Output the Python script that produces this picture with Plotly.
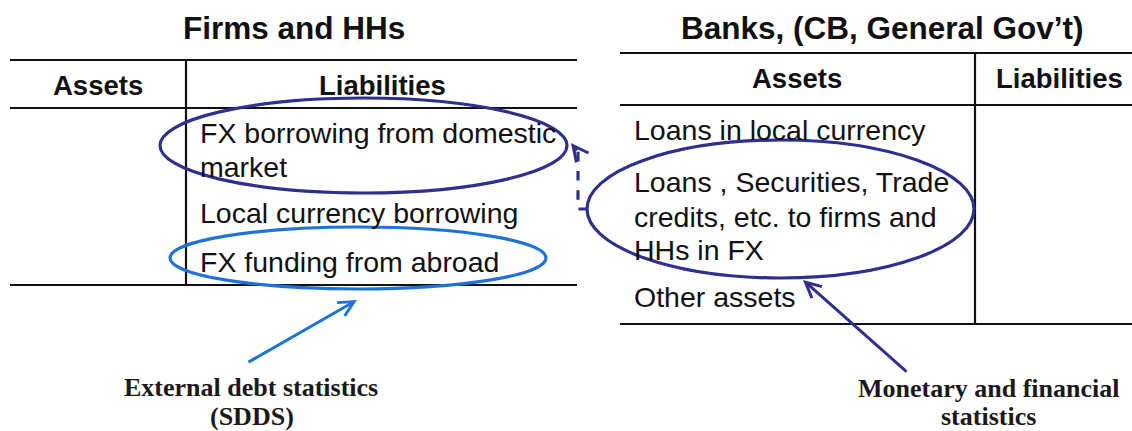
import plotly.graph_objects as go

W, H = 1132, 431

# diagram content
left_title = "Firms and HHs"
right_title = "Banks, (CB, General Gov’t)"
headers = ["Assets", "Liabilities"]
left_rows = ["FX borrowing from domestic", "market", "Local currency borrowing", "FX funding from abroad"]
right_rows = ["Loans in local currency", "Loans , Securities, Trade", "credits, etc. to firms and",
              "HHs in FX", "Other assets"]
caption_left = ["External debt statistics", "(SDDS)"]
caption_right = ["Monetary and financial", "statistics"]

NAVY = "#2e2f8f"
BLUE = "#1f72d8"
INK = "#111111"
SANS = "Liberation Sans, Arial, sans-serif"
SERIF = "Liberation Serif, Times New Roman, serif"

fig = go.Figure()
shapes = []
ann = []


def hline(x0, x1, y, w=2.2):
    shapes.append(dict(type="line", x0=x0, x1=x1, y0=y, y1=y, line=dict(color=INK, width=w)))


def vline(x, y0, y1, w=2.2):
    shapes.append(dict(type="line", x0=x, x1=x, y0=y0, y1=y1, line=dict(color=INK, width=w)))


def text(s, x, y, size, anchor="left", bold=False, family=SANS, color=INK):
    ann.append(dict(x=x, y=y, text=s, showarrow=False, xanchor=anchor, yanchor="middle", borderpad=0,
                    font=dict(family=family, size=size, color=color, weight="bold" if bold else "normal")))


# left table: Firms and HHs
text(left_title, 294, 28, 31.5, "center", True)
hline(10, 577, 60)
hline(10, 577, 108)
hline(10, 577, 285)
vline(186, 60, 285)
text(headers[0], 98, 85, 27.5, "center", True)
text(headers[1], 382, 85, 27.5, "center", True)
for s, y in zip(left_rows, [133, 167, 213, 262]):
    text(s, 199, y, 28.5)

# right table: Banks
text(right_title, 882, 28, 31.5, "center", True)
hline(620, 1132, 53)
hline(620, 1132, 105)
hline(620, 1132, 324)
vline(975, 53, 324)
text(headers[0], 797, 78, 27.5, "center", True)
text(headers[1], 1059, 78, 27.5, "center", True)
for s, y in zip(right_rows, [130, 182, 217, 250, 297]):
    text(s, 633, y, 28.5)

# ellipses
shapes.append(dict(type="circle", x0=160, x1=567, y0=98, y1=193, line=dict(color=NAVY, width=3.2)))
shapes.append(dict(type="circle", x0=170, x1=546, y0=227, y1=289, line=dict(color=BLUE, width=3.2)))
shapes.append(dict(type="circle", x0=587, x1=974, y0=140, y1=278, line=dict(color=NAVY, width=3.2)))

# dashed connector between the two navy ellipses
shapes.append(dict(type="path", path="M 588 209 L 578 209 L 578 150",
                   line=dict(color=NAVY, width=3.2, dash="dash")))
ann.append(dict(x=571, y=143, ax=578, ay=152, axref="x", ayref="y", xref="x", yref="y",
                text="", showarrow=True, arrowhead=5, arrowsize=1, arrowwidth=3, arrowcolor=NAVY))

# arrows from captions
ann.append(dict(x=357, y=300, ax=247, ay=363, axref="x", ayref="y", xref="x", yref="y",
                text="", showarrow=True, arrowhead=5, arrowsize=1, arrowwidth=3, arrowcolor=BLUE))
ann.append(dict(x=803, y=280, ax=908, ay=373, axref="x", ayref="y", xref="x", yref="y",
                text="", showarrow=True, arrowhead=5, arrowsize=1, arrowwidth=3, arrowcolor=NAVY))

text(caption_left[0], 251, 387, 26, "center", True, SERIF, "#1a1a1a")
text(caption_left[1], 252, 416, 26, "center", True, SERIF, "#1a1a1a")
text(caption_right[0], 988, 388, 26, "center", True, SERIF, "#1a1a1a")
text(caption_right[1], 988, 416, 26, "center", True, SERIF, "#1a1a1a")

fig.update_layout(
    width=W, height=H,
    margin=dict(l=0, r=0, t=0, b=0),
    paper_bgcolor="white", plot_bgcolor="white",
    xaxis=dict(range=[0, W], visible=False, fixedrange=True),
    yaxis=dict(range=[H, 0], visible=False, fixedrange=True),
    shapes=shapes, annotations=ann,
    showlegend=False,
)

fig.write_html("out.html", config={"displayModeBar": False},
               post_script="document.body.style.margin='0px';document.body.style.overflow='hidden';")
